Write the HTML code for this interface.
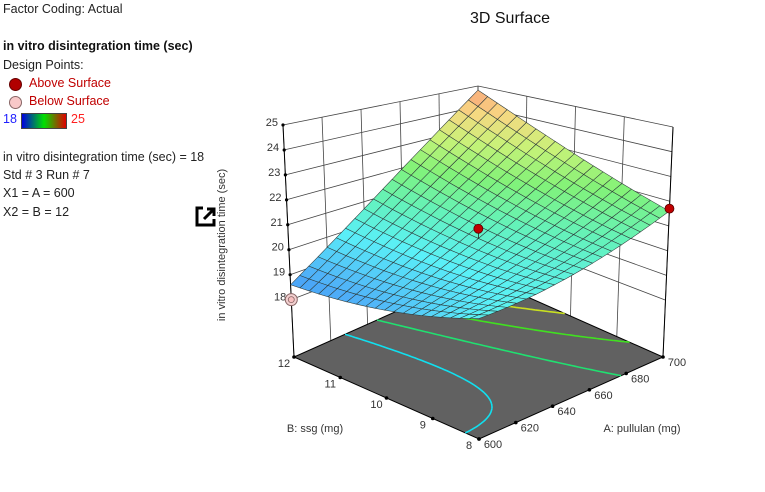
<!DOCTYPE html>
<html><head><meta charset="utf-8"><style>
body{margin:0;background:#fff;width:765px;height:492px;overflow:hidden;font-family:"Liberation Sans","DejaVu Sans",sans-serif;}
.t{position:absolute;font-size:12.5px;color:#222;white-space:nowrap}
</style></head><body>
<div class="t" style="left:3px;top:2px">Factor Coding: Actual</div>
<div class="t" style="left:3px;top:39px;font-weight:bold;color:#111">in vitro disintegration time (sec)</div>
<div class="t" style="left:3px;top:58px">Design Points:</div>
<div style="position:absolute;left:9px;top:78px;width:11px;height:11px;border-radius:50%;background:#b00000;border:1px solid #600"></div>
<div class="t" style="left:29px;top:76px;color:#c00000">Above Surface</div>
<div style="position:absolute;left:9px;top:96px;width:11px;height:11px;border-radius:50%;background:#f8c8c8;border:1px solid #866"></div>
<div class="t" style="left:29px;top:94px;color:#c00000">Below Surface</div>
<div class="t" style="left:3px;top:112px;color:#2020ff">18</div>
<div style="position:absolute;left:21px;top:113px;width:44px;height:14px;border:1px solid #444;background:linear-gradient(to right,#0000e0,#00e000 50%,#e00000)"></div>
<div class="t" style="left:71px;top:112px;color:#ff2020">25</div>
<div class="t" style="left:3px;top:150px">in vitro disintegration time (sec) = 18</div>
<div class="t" style="left:3px;top:168px">Std # 3 Run # 7</div>
<div class="t" style="left:3px;top:186px">X1 = A = 600</div>
<div class="t" style="left:3px;top:205px">X2 = B = 12</div>
<svg id="s" width="765" height="492" style="position:absolute;left:0;top:0" xmlns="http://www.w3.org/2000/svg"></svg>
<script>
var S=document.getElementById('s'),h='';
var F={a:[479,439],b:[663,357],c:[294,357],d:[478,275]};
var T={a:[479,190],b:[673,127],c:[283,125],d:[478,86]};
var Z0=15.7;
function bl(C,u,v){return [C.a[0]*(1-u)*(1-v)+C.b[0]*u*(1-v)+C.c[0]*(1-u)*v+C.d[0]*u*v,C.a[1]*(1-u)*(1-v)+C.b[1]*u*(1-v)+C.c[1]*(1-u)*v+C.d[1]*u*v];}
function P(u,v,z){var f=bl(F,u,v),t=bl(T,u,v),s=(z-Z0)/(25-Z0);return [f[0]+(t[0]-f[0])*s,f[1]+(t[1]-f[1])*s];}
function zf(u,v){return 20.2+1.4*u-1.6*v+4.8*u*v+1.6*(u*u-u)+1.2*(v*v-v);}
function L(p,q,c,w){h+='<line x1="'+p[0].toFixed(1)+'" y1="'+p[1].toFixed(1)+'" x2="'+q[0].toFixed(1)+'" y2="'+q[1].toFixed(1)+'" stroke="'+c+'" stroke-width="'+(w||0.8)+'"/>';}
function T2(x,y,s,a,ex){h+='<text x="'+x+'" y="'+y+'" font-size="11" fill="#333" text-anchor="'+(a||'middle')+'" '+(ex||'')+'>'+s+'</text>';}
for(var z=18;z<=25;z++){L(P(0,1,z),P(1,1,z),'#444');L(P(1,1,z),P(1,0,z),'#444');}
for(var i=0;i<=5;i++)L(P(i/5,1,Z0),P(i/5,1,25),'#444');
for(var i=0;i<=4;i++)L(P(1,i/4,Z0),P(1,i/4,25),'#444');
var fl=[F.a,F.b,F.d,F.c];
h+='<polygon points="'+fl.map(function(p){return p.join(',')}).join(' ')+'" fill="#616161" stroke="#000" stroke-width="1"/>';
var lv=[[20,'#10e0f0'],[21,'#20e070'],[22,'#40e020'],[23,'#c8e020'],[24,'#f0a020']];
var N=60;
lv.forEach(function(L0){var c=L0[0],d='';
for(var i=0;i<N;i++)for(var j=0;j<N;j++){var u0=i/N,u1=(i+1)/N,v0=j/N,v1=(j+1)/N;
var pts=[[u0,v0],[u1,v0],[u1,v1],[u0,v1]],vals=pts.map(function(p){return zf(p[0],p[1])-c}),cr=[];
for(var k=0;k<4;k++){var a=vals[k],b=vals[(k+1)%4];if((a<0)!=(b<0)){var t=a/(a-b),p=pts[k],q=pts[(k+1)%4];cr.push([p[0]+(q[0]-p[0])*t,p[1]+(q[1]-p[1])*t]);}}
for(var k=0;k+1<cr.length;k+=2){var p=bl(F,cr[k][0],cr[k][1]),q=bl(F,cr[k+1][0],cr[k+1][1]);d+='M'+p[0].toFixed(1)+' '+p[1].toFixed(1)+'L'+q[0].toFixed(1)+' '+q[1].toFixed(1);}}
h+='<path d="'+d+'" stroke="'+L0[1]+'" stroke-width="1.6" fill="none"/>';});
L(F.c,T.c,'#000',1);L(F.b,T.b,'#000',1);L(F.d,T.d,'#444',1);
for(var z=18;z<=25;z++){var p=P(0,1,z);h+='<circle cx="'+p[0]+'" cy="'+p[1]+'" r="1.6" fill="#000"/>';T2(p[0]-5,p[1]+1,z,'end');}
for(var i=0;i<=4;i++){var p=bl(F,0,i/4);h+='<circle cx="'+p[0]+'" cy="'+p[1]+'" r="1.8" fill="#000"/>';T2(p[0]-10,p[1]+10,8+i);}
for(var i=0;i<=5;i++){var p=bl(F,i/5,0);h+='<circle cx="'+p[0]+'" cy="'+p[1]+'" r="1.8" fill="#000"/>';T2(p[0]+14,p[1]+9,600+20*i);}
var n=20,cols=[[18,[60,130,245]],[19,[80,180,248]],[20,[90,240,248]],[21,[100,242,185]],[22,[130,242,120]],[23,[200,242,120]],[24,[248,215,130]],[25,[248,150,120]]];
function col(z){if(z<=18)return cols[0][1];for(var k=1;k<cols.length;k++)if(z<=cols[k][0]){var t=z-cols[k-1][0],a=cols[k-1][1],b=cols[k][1];return [0,1,2].map(function(m){return Math.round(a[m]+(b[m]-a[m])*t)});}return cols[7][1];}
var q=[];for(var i=0;i<n;i++)for(var j=0;j<n;j++)q.push([i,j]);
q.sort(function(a,b){return (b[0]+b[1])-(a[0]+a[1]);});
q.forEach(function(c){var i=c[0],j=c[1],cs=[[i,j],[i+1,j],[i+1,j+1],[i,j+1]],zs=0,pp=cs.map(function(k){var u=k[0]/n,v=k[1]/n,z=zf(u,v);zs+=z;return P(u,v,z).map(function(x){return x.toFixed(1)}).join(',')});
var cl=col(zs/4);h+='<polygon points="'+pp.join(' ')+'" fill="rgb('+cl+')" stroke="#2e3a3a" stroke-width="0.55"/>';});
function dp(u,v,z,fill,st){var p=P(u,v,z),s=P(u,v,zf(u,v));if(st)L(p,s,'#222',0.8);h+='<circle cx="'+p[0]+'" cy="'+p[1]+'" r="4.5" fill="'+fill+'" stroke="#500" stroke-width="0.8"/>';}
dp(0.5,0.5,21,'#c00000',1);dp(1,0,21.7,'#c00000',1);
var p=P(0,1,18);h+='<circle cx="'+p[0]+'" cy="'+p[1]+'" r="6" fill="#f2d0d0" stroke="#866" stroke-width="1"/><circle cx="'+p[0]+'" cy="'+p[1]+'" r="3" fill="#f8c0c0" stroke="#866" stroke-width="0.8"/>';
T2(315,432,'B: ssg (mg)');T2(642,432,'A: pullulan (mg)');
h+='<text x="0" y="0" font-size="11" fill="#333" text-anchor="middle" transform="translate(225,245) rotate(-90)">in vitro disintegration time (sec)</text>';
h+='<text x="510" y="23" font-size="16" fill="#111" text-anchor="middle">3D Surface</text>';
h+='<path d="M203 208H197V225H214V219" stroke="#000" stroke-width="3" fill="none"/><path d="M204 219L213 210M207 209H214V216" stroke="#000" stroke-width="3" fill="none"/>';
S.innerHTML=h;
</script>
</body></html>
